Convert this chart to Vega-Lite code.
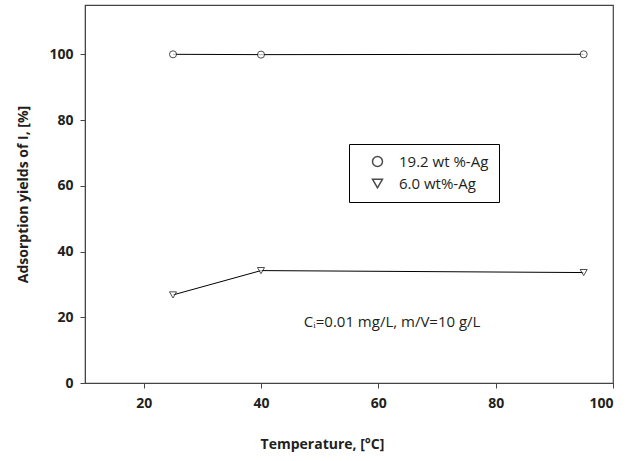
{
  "$schema": "https://vega.github.io/schema/vega-lite/v6.json",
  "width": 528,
  "height": 378,
  "autosize": {"type": "none"},
  "padding": {"left": 85, "top": 5, "right": 19, "bottom": 78},
  "background": "white",
  "config": {
    "view": {"stroke": "#444", "strokeWidth": 1.2},
    "font": "Open Sans",
    "axis": {
      "grid": false,
      "domainColor": "#444",
      "tickColor": "#444",
      "labelFont": "Open Sans",
      "labelFontWeight": "bold",
      "labelFontSize": 14,
      "labelColor": "#231f20",
      "titleFont": "Open Sans",
      "titleFontWeight": "bold",
      "titleFontSize": 14,
      "titleColor": "#231f20",
      "tickSize": 5
    }
  },
  "data": {
    "values": [
      {"series": "19.2 wt %-Ag", "temp": 25, "yield": 100},
      {"series": "19.2 wt %-Ag", "temp": 40, "yield": 99.9},
      {"series": "19.2 wt %-Ag", "temp": 95, "yield": 100},
      {"series": "6.0 wt%-Ag", "temp": 25, "yield": 26.8},
      {"series": "6.0 wt%-Ag", "temp": 40, "yield": 34.2},
      {"series": "6.0 wt%-Ag", "temp": 95, "yield": 33.6}
    ]
  },
  "layer": [
    {
      "mark": {"type": "line", "color": "black", "strokeWidth": 1},
      "encoding": {
        "x": {
          "field": "temp", "type": "quantitative",
          "scale": {"domain": [10, 100], "nice": false},
          "axis": {"values": [20, 40, 60, 80, 100], "title": "Temperature, [°C]", "labelPadding": 8, "titlePadding": 27, "titleX": 237}
        },
        "y": {
          "field": "yield", "type": "quantitative",
          "scale": {"domain": [0, 115], "nice": false},
          "axis": {"values": [0, 20, 40, 60, 80, 100], "title": "Adsorption yields of I, [%]", "labelPadding": 7, "titlePadding": 18}
        },
        "detail": {"field": "series"}
      }
    },
    {
      "mark": {"type": "point", "filled": false, "color": "black", "fill": "white", "strokeWidth": 1},
      "encoding": {
        "x": {"field": "temp", "type": "quantitative"},
        "y": {"field": "yield", "type": "quantitative"},
        "shape": {
          "field": "series", "type": "nominal",
          "scale": {"domain": ["19.2 wt %-Ag", "6.0 wt%-Ag"], "range": ["circle", "triangle-down"]},
          "legend": {
            "title": null,
            "orient": "none",
            "legendX": 264,
            "legendY": 139,
            "strokeColor": "black",
            "padding": 10,
            "labelFont": "Open Sans",
            "labelFontSize": 15,
            "labelColor": "#231f20",
            "labelOffset": 14,
            "symbolOffset": 11,
            "rowPadding": 6,
            "encode": {
              "symbols": {
                "shape": {"value": {"expr": "datum.value === '19.2 wt %-Ag' ? 'M-3.3,0L-0.77,0M0.77,0L0.711,0.295L0.544,0.544L0.295,0.711L0,0.77L-0.295,0.711L-0.544,0.544L-0.711,0.295L-0.77,0L-0.711,-0.295L-0.544,-0.544L-0.295,-0.711L0,-0.77L0.295,-0.711L0.544,-0.544L0.711,-0.295L0.77,0L3.3,0' : 'M-3.3,0L-0.69,0M0.69,0L3.3,0M-1,-0.46L1,-0.46L0,1.04Z'"}}
              }
            }
          }
        },
        "size": {"value": 50}
      }
    },
    {
      "data": {"values": [{"note": "Cᵢ=0.01 mg/L, m/V=10 g/L", "tx": 47.3, "ty": 18.6}]},
      "mark": {"type": "text", "align": "left", "baseline": "middle", "font": "Open Sans", "fontSize": 15, "color": "#231f20"},
      "encoding": {
        "x": {"field": "tx", "type": "quantitative"},
        "y": {"field": "ty", "type": "quantitative"},
        "text": {"field": "note"}
      }
    }
  ]
}
